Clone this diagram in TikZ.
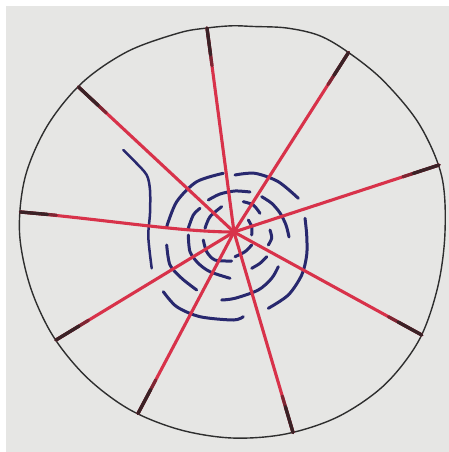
\documentclass[tikz,border=0pt]{standalone}
\usetikzlibrary{calc}
\definecolor{paper}{HTML}{E6E6E4}
\definecolor{spokered}{HTML}{D8324A}
\definecolor{inkblue}{HTML}{28286E}
\definecolor{rim}{HTML}{2E2E2E}
\definecolor{tipdark}{HTML}{3A2226}
\definecolor{tipmid}{HTML}{7E2633}
\begin{document}
\begin{tikzpicture}[x=1pt,y=-1pt,
  spoke/.style={spokered, line width=3.1pt, line cap=round},
  tipa/.style={tipmid, line width=3.2pt, line cap=round},
  tipb/.style={tipdark, line width=3.3pt, line cap=round},
  ring/.style={inkblue, line width=3pt, line cap=round},
  rimline/.style={rim, line width=1.4pt}]
\useasboundingbox (0,0) rectangle (449,452);
\fill[white] (0,0) rectangle (449,452);
\fill[paper] (6,6) rectangle (449,452);
% outer rim
\draw[rimline] plot[smooth cycle, tension=0.55] coordinates {(445,232) (441.6,175.8) (419.1,124) (383.3,80.7) (348.5,52.5) (319.4,35.6) (286.7,28) (253.6,26.5) (232,25.8) (207,28) (178.7,33) (127.75,51.4) (82.45,82.45) (47.5,125.5) (25.3,176.6) (19.5,232) (30.1,286.1) (52.7,335.5) (86.7,377.3) (129.5,409.5) (179.1,429.5) (232,438) (286.1,433.9) (338.5,416.5) (384.7,384.7) (419.1,340) (437.7,287.1)};
% blue spiral strokes
\draw[ring] plot[smooth] coordinates {(166.7,226.7) (176.7,201.7) (196.7,181.7) (223.3,173.3)};
\draw[ring] plot[smooth] coordinates {(235,175) (255,173.3) (278.3,181.7) (298.3,198.3)};
\draw[ring] plot[smooth] coordinates {(305,218.3) (306.7,235) (306.7,255) (301.7,275) (288.3,295) (268.3,308.3)};
\draw[ring] plot[smooth] coordinates {(163.3,291.7) (176.7,306.7) (200,316.7) (233.3,320) (243.3,316.7)};
\draw[ring] plot[smooth] coordinates {(166.7,245) (170,265) (181.7,278.3) (196.7,290)};
\draw[ring] plot[smooth] coordinates {(221.7,300) (235,298.3) (258.3,290) (271.7,278.3) (278.3,266.7)};
\draw[ring] plot[smooth] coordinates {(188.3,228.3) (193.3,215) (200,208.3)};
\draw[ring] plot[smooth] coordinates {(208.3,200) (220,194) (235,191) (250,192)};
\draw[ring] plot[smooth] coordinates {(261.7,196.7) (271.7,203.3) (280,213) (286,225) (289,237)};
\draw[ring] plot[smooth] coordinates {(188.3,235) (190,251.7) (198.3,263.3) (210,271.7) (230,278.3)};
\draw[ring] plot[smooth] coordinates {(251.7,268.3) (260,263.3) (266.7,256.7)};
\draw[ring] plot[smooth] coordinates {(205,228.3) (210,216.7) (221.7,206.7)};
\draw[ring] plot[smooth] coordinates {(243.3,201.7) (253.3,205) (260,213.3)};
\draw[ring] plot[smooth] coordinates {(270,230) (271.7,238) (268.3,245)};
\draw[ring] plot[smooth] coordinates {(203.3,240) (206.7,251.7) (215,260) (231.7,261)};
\draw[ring] plot[smooth] coordinates {(248.3,220) (251.7,226.7) (251.7,235)};
\draw[ring] plot[smooth] coordinates {(235,256.7) (245,251.7) (251.7,245)};
% left squiggle
\draw[ring, line width=2.5pt] plot[smooth] coordinates {(123.3,150) (135,161.7) (146.7,175) (150,190) (150,213.3) (148.3,236.7) (151.7,268.3)};
% red spokes
\coordinate (c) at (234,232);
\coordinate (e1) at (207,28);
\coordinate (e2) at (348.5,52.5);
\coordinate (e3) at (439,165);
\coordinate (e4) at (421.8,335);
\coordinate (e5) at (293,432.5);
\coordinate (e6) at (138,413.5);
\coordinate (e7) at (56,340);
\coordinate (e8) at (20.5,212);
\coordinate (e9) at (78.5,87);
\coordinate (k8) at (110,220);
\foreach \e in {e1,e2,e3,e4,e5,e6,e7,e9}
  \draw[spoke] (c) -- (\e);
\draw[spoke] (e8) .. controls (k8) and (180,232) .. (c);
\foreach \e in {e1,e2,e3,e4,e5,e6,e7,e9}{
  \draw[tipa] (\e) -- ($(\e)!38pt!(c)$);
  \draw[tipb] (\e) -- ($(\e)!27pt!(c)$);
}
\draw[tipa] (e8) -- ($(e8)!36pt!(k8)$);
\draw[tipb] (e8) -- ($(e8)!27pt!(k8)$);
\fill[spokered] (c) circle (3.4pt);
\end{tikzpicture}
\end{document}
